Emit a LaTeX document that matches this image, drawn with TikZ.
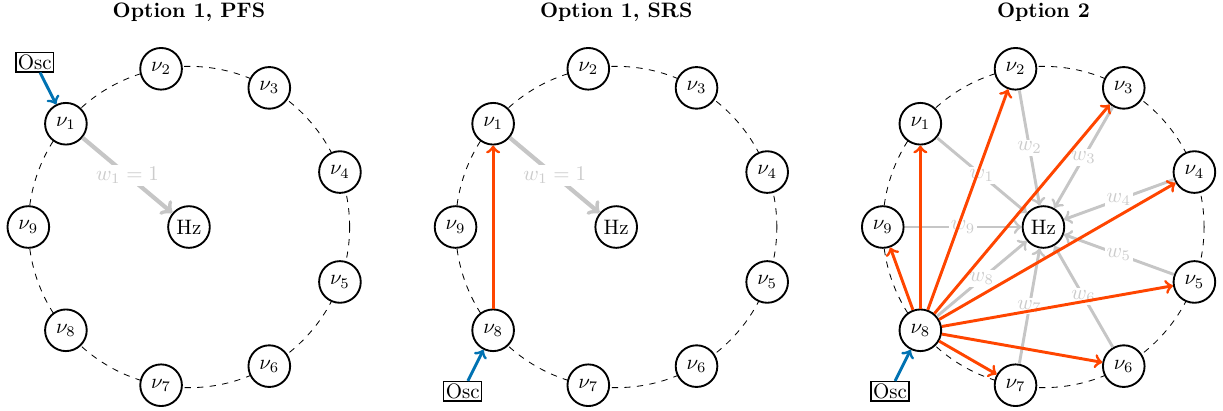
\documentclass[tikz,border=0pt]{standalone}
\definecolor{oscblue}{RGB}{0,114,178}
\definecolor{lockorange}{RGB}{255,69,0}
\tikzset{
  freq/.style={circle,draw,line width=0.9pt,fill=white,minimum size=0.7cm,inner sep=1pt},
  oscbox/.style={draw,semithick,inner sep=1pt},
  ring/.style={dashed,thin},
  weight/.style={->,line width=1.4pt,gray!45},
  wlabel/.style={fill=white,text=gray!40,inner sep=1pt},
  drive/.style={->,line width=1.4pt,oscblue},
  lock/.style={->,line width=1.4pt,lockorange},
  paneltitle/.style={font=\bfseries}
}
\begin{document}
\begin{tikzpicture}
  \def\ringrad{2.7cm}
  \def\panelgap{7.18cm}
  \useasboundingbox (-3.176,-3.076) rectangle (17.378,3.815);
  % option 1, PFS
  \begin{scope}
    \node[paneltitle] (ta) at (0,3.61) {Option 1, PFS};
    \draw[ring] (0,0) circle (\ringrad);
    \node[freq] (ahz) at (0,0) {Hz};
    \foreach \i in {1,...,9}
      \node[freq] (av\i) at ({180-40*\i}:\ringrad) {$\nu_{\i}$};
    \node[oscbox] (aosc) at (-2.59,2.77) {Osc};
    \draw[drive] (aosc) -- (av1);
    \draw[weight,line width=2pt] (av1) -- node[wlabel] {$w_1 = 1$} (ahz);
  \end{scope}
  % option 1, SRS
  \begin{scope}[xshift=\panelgap]
    \node[paneltitle] (tb) at (0,3.61) {Option 1, SRS};
    \draw[ring] (0,0) circle (\ringrad);
    \node[freq] (bhz) at (0,0) {Hz};
    \foreach \i in {1,...,9}
      \node[freq] (bv\i) at ({180-40*\i}:\ringrad) {$\nu_{\i}$};
    \node[oscbox] (bosc) at (-2.58,-2.76) {Osc};
    \draw[drive] (bosc) -- (bv8);
    \draw[weight,line width=2pt] (bv1) -- node[wlabel] {$w_1 = 1$} (bhz);
    \draw[lock] (bv8) -- (bv1);
  \end{scope}
  % option 2
  \begin{scope}[xshift=2*\panelgap]
    \node[paneltitle] (tc) at (0,3.61) {Option 2};
    \draw[ring] (0,0) circle (\ringrad);
    \node[freq] (chz) at (0,0) {Hz};
    \foreach \i in {1,...,9}
      \node[freq] (cv\i) at ({180-40*\i}:\ringrad) {$\nu_{\i}$};
    \node[oscbox] (cosc) at (-2.58,-2.76) {Osc};
    \draw[drive] (cosc) -- (cv8);
    \foreach \i in {1,...,9}
      \draw[weight] (cv\i) -- node[wlabel] {$w_{\i}$} (chz);
    \foreach \i in {1,2,3,4,5,6,7,9}
      \draw[lock] (cv8) -- (cv\i);
  \end{scope}
\end{tikzpicture}
\end{document}
